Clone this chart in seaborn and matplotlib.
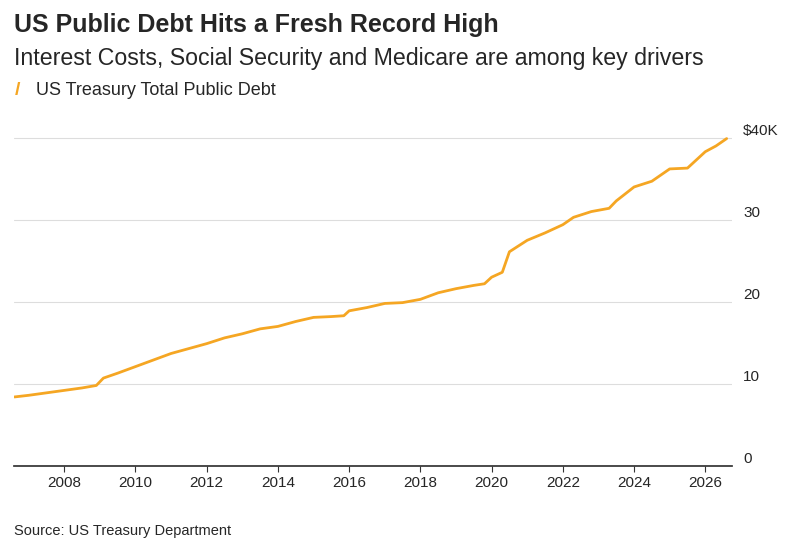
"""US public debt line chart."""

import matplotlib.pyplot as plt
import seaborn as sns
import pandas as pd

years = [2006.6, 2007.0, 2007.5, 2008.0, 2008.5, 2008.9, 2009.1, 2009.5, 2010.0, 2010.5,
         2011.0, 2011.5, 2012.0, 2012.5, 2013.0, 2013.5, 2014.0, 2014.5, 2015.0, 2015.5,
         2015.85, 2016.0, 2016.5, 2017.0, 2017.5, 2018.0, 2018.5, 2019.0, 2019.5, 2019.8,
         2020.0, 2020.3, 2020.5, 2021.0, 2021.5, 2022.0, 2022.3, 2022.8, 2023.3, 2023.5,
         2024.0, 2024.5, 2025.0, 2025.5, 2025.8, 2026.0, 2026.3, 2026.6]
debt = [8.4, 8.6, 8.9, 9.2, 9.5, 9.8, 10.7, 11.3, 12.1, 12.9,
        13.7, 14.3, 14.9, 15.6, 16.1, 16.7, 17.0, 17.6, 18.1, 18.2,
        18.3, 18.9, 19.3, 19.8, 19.9, 20.3, 21.1, 21.6, 22.0, 22.2,
        23.0, 23.6, 26.1, 27.5, 28.4, 29.4, 30.3, 31.0, 31.4, 32.3,
        34.0, 34.7, 36.2, 36.3, 37.5, 38.3, 39.0, 39.9]
y_ticks = [0, 10, 20, 30, 40]
y_labels = ["0", "10", "20", "30", "$40K"]
x_ticks = list(range(2008, 2027, 2))

df = pd.DataFrame({"year": years, "debt": debt})
color = "#F5A623"

sns.set_theme(style="white")
plt.rcParams["font.family"] = ["Liberation Sans", "DejaVu Sans"]

fig = plt.figure(figsize=(8, 5.5), dpi=100)
ax = fig.add_axes([0.018, 0.153, 0.897, 0.604])
sns.lineplot(data=df, x="year", y="debt", ax=ax, color=color, linewidth=2)

ax.set_xlim(2006.6, 2026.75)
ax.set_ylim(0, 40.5)
ax.set_yticks(y_ticks)
ax.set_yticklabels(y_labels)
ax.yaxis.tick_right()
ax.tick_params(axis="y", length=0, pad=8, labelsize=11)
ax.tick_params(axis="x", length=4, width=0.8, color="#333333", labelsize=11, bottom=True)
ax.set_xticks(x_ticks)
ax.grid(axis="y", color="#dddddd", linewidth=0.8)
for s in ["top", "right", "left"]:
    ax.spines[s].set_visible(False)
ax.spines["bottom"].set_color("#333333")
ax.set_xlabel("")
ax.set_ylabel("")
for lbl in ax.get_yticklabels():
    lbl.set_verticalalignment("bottom")

fig.text(0.018, 0.955, "US Public Debt Hits a Fresh Record High", fontsize=18, fontweight="bold", va="center")
fig.text(0.018, 0.893, "Interest Costs, Social Security and Medicare are among key drivers", fontsize=16.7, va="center")
fig.text(0.018, 0.835, "/", color=color, fontsize=14, fontweight="bold", va="center")
fig.text(0.045, 0.835, "US Treasury Total Public Debt", fontsize=13, va="center")
fig.text(0.018, 0.035, "Source: US Treasury Department", fontsize=10.5, va="center")

plt.savefig("out.png", dpi=100)
plt.close()
